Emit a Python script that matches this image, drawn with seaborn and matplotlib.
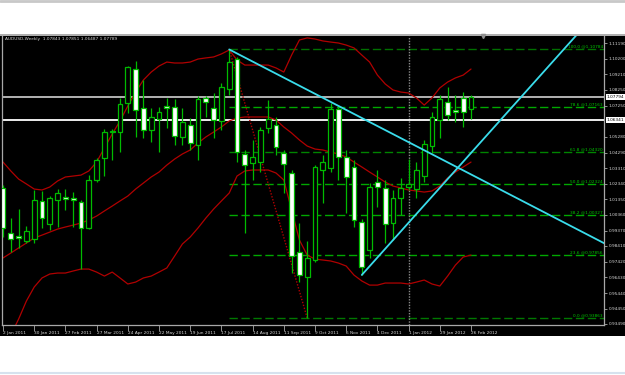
import numpy as np
import pandas as pd
import matplotlib
matplotlib.use("Agg")
import matplotlib.pyplot as plt
import matplotlib.transforms as mtransforms
from matplotlib.patches import Rectangle
from matplotlib.lines import Line2D
import seaborn as sns

# ---------------- data ----------------
bars = list(range(61))
opens = [1.0206, 0.9922, 0.9903, 0.9872, 0.9884, 1.0124, 0.9979, 1.0130, 1.0149, 1.0143,
         1.0117, 0.9954, 1.0256, 1.0395, 1.0558, 1.0558, 1.0741, 1.0955, 1.0710, 1.0571,
         1.0640, 1.0722, 1.0716, 1.0527, 1.0602, 1.0476, 1.0773, 1.0709, 1.0628, 1.0829,
         1.1018, 1.0420, 1.0363, 1.0369, 1.0583, 1.0602, 1.0426, 1.0300, 0.9802, 0.9645,
         0.9752, 1.0319, 1.0332, 1.0703, 1.0401, 1.0338, 0.9991, 0.9815, 1.0243, 1.0206,
         0.9985, 1.0143, 1.0212, 1.0199, 1.0281, 1.0470, 1.0634, 1.0747, 1.0697, 1.0773,
         1.0703]
highs = [1.0224, 1.0017, 1.0073, 0.9966, 1.0193, 1.0187, 1.0155, 1.0199, 1.0199, 1.0180,
         1.0130, 1.0287, 1.0395, 1.0577, 1.0577, 1.0773, 1.0974, 1.1006, 1.0886, 1.0710,
         1.0716, 1.0773, 1.0766, 1.0710, 1.0646, 1.0785, 1.0785, 1.0804, 1.0867, 1.1078,
         1.1031, 1.0445, 1.0508, 1.0590, 1.0760, 1.0653, 1.0445, 1.0319, 0.9985, 0.9872,
         1.0350, 1.0413, 1.0741, 1.0716, 1.0445, 1.0382, 1.0010, 1.0237, 1.0319, 1.0256,
         1.0193, 1.0269, 1.0388, 1.0369, 1.0508, 1.0684, 1.0791, 1.0842, 1.0791, 1.0810,
         1.0791]
lows = [0.9897, 0.9802, 0.9828, 0.9859, 0.9859, 0.9954, 0.9941, 0.9960, 1.0067, 0.9960,
        0.9695, 0.9947, 1.0243, 1.0281, 1.0382, 1.0432, 1.0678, 1.0527, 1.0521, 1.0495,
        1.0432, 1.0583, 1.0476, 1.0476, 1.0445, 1.0382, 1.0653, 1.0521, 1.0571, 1.0791,
        1.0369, 0.9922, 1.0256, 1.0306, 1.0552, 1.0413, 1.0174, 0.9670, 0.9613, 0.9386,
        0.9739, 1.0111, 1.0306, 1.0256, 1.0048, 0.9960, 0.9657, 0.9765, 1.0086, 0.9859,
        0.9878, 1.0035, 1.0193, 1.0143, 1.0243, 1.0426, 1.0521, 1.0634, 1.0621, 1.0590,
        1.0640]
closes = [0.9954, 0.9884, 0.9891, 0.9935, 1.0130, 1.0016, 1.0143, 1.0174, 1.0136, 1.0130,
          0.9954, 1.0256, 1.0382, 1.0558, 1.0565, 1.0735, 1.0968, 1.0697, 1.0571, 1.0653,
          1.0684, 1.0709, 1.0533, 1.0621, 1.0489, 1.0766, 1.0747, 1.0634, 1.0842, 1.1000,
          1.0432, 1.0350, 1.0401, 1.0571, 1.0640, 1.0464, 1.0357, 0.9777, 0.9657, 0.9765,
          1.0338, 1.0369, 1.0703, 1.0401, 1.0275, 1.0004, 0.9708, 1.0212, 1.0212, 0.9979,
          1.0143, 1.0206, 1.0231, 1.0319, 1.0483, 1.0653, 1.0766, 1.0665, 1.0684, 1.0684,
          1.0779]

bb_upper = [1.0369, 1.0313, 1.0262, 1.0231, 1.0199, 1.0193, 1.0212, 1.0250, 1.0275, 1.0281,
            1.0287, 1.0313, 1.0369, 1.0458, 1.0546, 1.0628, 1.0722, 1.0810, 1.0886, 1.0936,
            1.0974, 1.0999, 1.0993, 1.0993, 1.0999, 1.1018, 1.1025, 1.1031, 1.1050, 1.1075,
            1.1012, 1.0980, 1.0980, 1.0980, 1.0980, 1.0962, 1.0936, 1.1043, 1.1138, 1.1151,
            1.1144, 1.1132, 1.1125, 1.1119, 1.1106, 1.1088, 1.1043, 1.0999, 1.0917, 1.0861,
            1.0823, 1.0810, 1.0804, 1.0773, 1.0728, 1.0773, 1.0836, 1.0873, 1.0899, 1.0917,
            1.0955]
bb_middle = [0.9765, 0.9796, 0.9828, 0.9859, 0.9891, 0.9909, 0.9928, 0.9947, 0.9960, 0.9972,
             0.9985, 1.0004, 1.0029, 1.0061, 1.0092, 1.0124, 1.0155, 1.0199, 1.0237, 1.0275,
             1.0306, 1.0350, 1.0388, 1.0420, 1.0445, 1.0489, 1.0527, 1.0558, 1.0590, 1.0628,
             1.0646, 1.0653, 1.0653, 1.0653, 1.0653, 1.0634, 1.0590, 1.0552, 1.0508, 1.0470,
             1.0451, 1.0445, 1.0432, 1.0420, 1.0401, 1.0369, 1.0338, 1.0306, 1.0275, 1.0243,
             1.0218, 1.0206, 1.0193, 1.0187, 1.0180, 1.0187, 1.0218, 1.0269, 1.0306, 1.0338,
             1.0369]
bb_lower = [0.9160, 0.9279, 0.9380, 0.9494, 0.9582, 0.9639, 0.9664, 0.9670, 0.9670, 0.9683,
            0.9695, 0.9695, 0.9676, 0.9651, 0.9676, 0.9639, 0.9601, 0.9613, 0.9639, 0.9651,
            0.9676, 0.9702, 0.9777, 0.9853, 0.9897, 0.9954, 1.0016, 1.0073, 1.0124, 1.0174,
            1.0281, 1.0313, 1.0319, 1.0319, 1.0319, 1.0300, 1.0256, 1.0067, 0.9878, 0.9783,
            0.9758, 0.9752, 0.9746, 0.9733, 0.9714, 0.9657, 0.9620, 0.9594, 0.9594, 0.9607,
            0.9607, 0.9607, 0.9601, 0.9613, 0.9626, 0.9601, 0.9588, 0.9651, 0.9720, 0.9771,
            0.9783]

date_tick_bars = [0, 4, 8, 12, 16, 20, 24, 28, 32, 36, 40, 44, 48, 52, 56, 60]
date_labels = ["2 Jan 2011", "30 Jan 2011", "27 Feb 2011", "27 Mar 2011", "24 Apr 2011",
               "22 May 2011", "19 Jun 2011", "17 Jul 2011", "14 Aug 2011", "11 Sep 2011",
               "9 Oct 2011", "6 Nov 2011", "4 Dec 2011", "1 Jan 2012", "29 Jan 2012",
               "26 Feb 2012"]
price_ticks = [1.11190, 1.10200, 1.09210, 1.08250, 1.07250, 1.05280, 1.04290, 1.03310,
               1.02340, 1.01350, 1.00360, 0.99370, 0.98410, 0.97420, 0.96430, 0.95440,
               0.94450, 0.93490]

fib_levels = [0.93863, 0.97856, 1.00327, 1.02324, 1.04320, 1.07163, 1.10784]
fib_names = ["0.0", "23.6", "38.2", "50.0", "61.8", "78.6", "100.0"]
fib_start_bar = 29
fib_base_bars = [29, 39]
fib_base_prices = [1.10784, 0.93863]

trend_down_bars = [29, 77.1]
trend_down_prices = [1.10784, 0.9857]
trend_up_bars = [46, 77.1]
trend_up_prices = [0.9658, 1.1365]

bid_price = 1.07794
hline_price = 1.06341
separator_bar = 52
title_text = "AUDUSD,Weekly  1.07843 1.07851 1.06487 1.07789"

# ---------------- style ----------------
sns.set_style("dark")
plt.rcParams["font.family"] = ["DejaVu Sans"]

GREEN = "#00BB00"
RED = "#B00000"
CYAN = "#3ADCEB"
AXGRAY = "#A8A8A8"
TXT = "#D8D8D8"
FS = 3.1

W, H = 625, 375
fig = plt.figure(figsize=(W / 100, H / 100), dpi=100, facecolor="white")

# black terminal panel and window borders (drawn on a background axes)
bg = fig.add_axes([0, 0, 1, 1], zorder=-5)
bg.set_xlim(0, W)
bg.set_ylim(H, 0)
bg.axis("off")
bg.add_patch(Rectangle((0, 36), W, 300, facecolor="black", edgecolor="none"))
bg.plot([0, W], [35, 35], color="#A0A0A0", lw=1.2)
bg.plot([0, W], [1, 1], color="#C8C8C8", lw=2)
bg.plot([0, W], [373, 373], color="#D6E2EE", lw=1.5)

ax = fig.add_axes([2 / W, 50 / H, 602 / W, 289 / H], zorder=1)
ax.set_facecolor("black")
ax.set_xlim(-0.13, 77.05)
ax.set_ylim(0.93427, 1.11631)
ax.grid(False)

# Fibonacci levels
fib_colors = ["#007800", "#00A800", "#00A800", "#00A800", "#008400", "#00A800", "#007000"]
for lvl, name, col in zip(fib_levels, fib_names, fib_colors):
    ax.plot([fib_start_bar, 77.05], [lvl, lvl], color=col, lw=1.0,
            dashes=(6, 2.6), zorder=1)
    ax.text(76.9, lvl + 0.0004, f"{name} @{lvl:.5f}", color="#00C800", fontsize=FS,
            ha="right", va="bottom", zorder=6)

# horizontal lines
ax.axhline(bid_price, color="#C0C0C0", lw=1.3, zorder=2)
ax.axhline(hline_price, color="white", lw=1.3, zorder=2)

# period separator
ax.axvline(separator_bar, color="#8A8A8A", lw=1.0, ls=(0, (1, 1)), zorder=1.5)

# Bollinger bands via seaborn
bands = pd.DataFrame({
    "bar": bars * 3,
    "price": bb_upper + bb_middle + bb_lower,
    "band": ["upper"] * 61 + ["middle"] * 61 + ["lower"] * 61,
})
sns.lineplot(data=bands, x="bar", y="price", hue="band", units="band", estimator=None,
             palette={"upper": RED, "middle": RED, "lower": RED}, legend=False,
             lw=0.9, ax=ax, zorder=2, sort=False)
ax.set_xlabel("")
ax.set_ylabel("")

# Fibonacci base line (dotted)
ax.plot(fib_base_bars, fib_base_prices, color=RED, lw=1.0, ls=(0, (1, 1.2)), zorder=2)

# candles
x = np.array(bars, dtype=float)
o = np.array(opens); h = np.array(highs); l = np.array(lows); c = np.array(closes)
up = c >= o
ax.vlines(x, l, h, color=GREEN, lw=0.9, zorder=3)
body_lo = np.minimum(o, c)
body_h = np.maximum(np.abs(c - o), 0.0003)
ax.bar(x, body_h, bottom=body_lo, width=0.62,
       color=np.where(up, "black", "white"), edgecolor=GREEN, linewidth=0.9, zorder=4)

# trend lines
ax.plot(trend_down_bars, trend_down_prices, color=CYAN, lw=1.3, zorder=5)
ax.plot(trend_up_bars, trend_up_prices, color=CYAN, lw=1.3, zorder=5)

# shift marker
ax.plot([61.5], [1.11631], marker="v", ms=3, color="#909090", clip_on=False, zorder=7)

# title
ax.text(0.005, 0.995, title_text, transform=ax.transAxes, color=TXT, fontsize=FS,
        ha="left", va="top", zorder=8)

# axes styling
for side in ["left", "bottom", "right"]:
    ax.spines[side].set_visible(True)
    ax.spines[side].set_color(AXGRAY)
    ax.spines[side].set_linewidth(0.9)
ax.spines["top"].set_visible(False)

ax.set_xticks(date_tick_bars)
ax.set_xticklabels(date_labels)
ax.tick_params(axis="x", direction="out", length=4, width=0.6, color=AXGRAY,
               labelcolor=TXT, labelsize=FS, pad=0.6, bottom=True)
for lab in ax.get_xticklabels():
    lab.set_horizontalalignment("left")

ax.yaxis.tick_right()
ax.set_yticks(price_ticks)
ax.set_yticklabels([f"{p:.5f}" for p in price_ticks])
ax.tick_params(axis="y", direction="out", length=2.2, width=0.6, color=AXGRAY,
               labelcolor=TXT, labelsize=FS, pad=1.0, right=True)

# highlighted axis prices
trans = mtransforms.blended_transform_factory(ax.transAxes, ax.transData)
for p in [bid_price, hline_price]:
    ax.text(1.004, p, f"{p:.5f}", transform=trans, color="black", fontsize=FS,
            ha="left", va="center", clip_on=False, zorder=9,
            bbox=dict(facecolor="white", edgecolor="none", pad=0.6))

fig.savefig("out.png", dpi=100, facecolor="white")
